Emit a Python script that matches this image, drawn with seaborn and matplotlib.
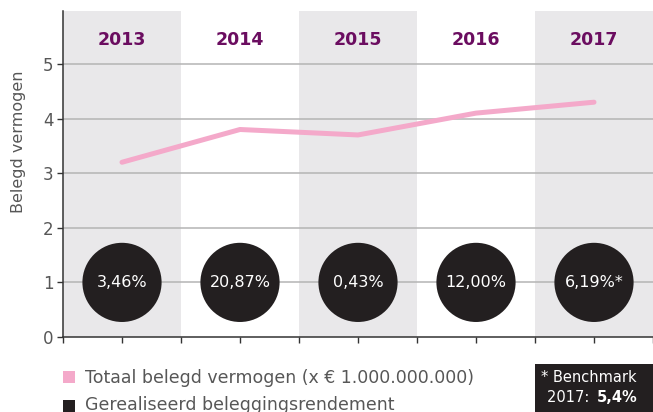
import numpy as np
import pandas as pd
import matplotlib
matplotlib.use("Agg")
import matplotlib.pyplot as plt
from matplotlib.patches import Rectangle
import seaborn as sns

# data
years = ["2013", "2014", "2015", "2016", "2017"]
belegd_vermogen = [3.2, 3.8, 3.7, 4.1, 4.3]
rendement_labels = ["3,46%", "20,87%", "0,43%", "12,00%", "6,19%*"]
circle_level = [1, 1, 1, 1, 1]
y_ticks = [0, 1, 2, 3, 4, 5]

PINK = "#f4a9ca"
DARK = "#231f20"
PURPLE = "#6b0d60"
BAND = "#e9e8ea"
TEXT_GRAY = "#575757"

sns.set_theme(style="white")
plt.rcParams["font.family"] = ["DejaVu Sans"]

df = pd.DataFrame({"pos": np.arange(len(years)), "year": years,
                   "vermogen": belegd_vermogen, "level": circle_level})

fig = plt.figure(figsize=(6.53, 4.12), dpi=100)
ax = fig.add_axes([63 / 653, 1 - 337 / 412, 590 / 653, 326 / 412])

# grijze kolommen om en om
for i in range(len(years)):
    if i % 2 == 0:
        ax.axvspan(i - 0.5, i + 0.5, color=BAND, lw=0, zorder=0)

for t in y_ticks[1:]:
    ax.axhline(t, color="#b4b4b4", lw=1.1, zorder=1)

sns.lineplot(data=df, x="pos", y="vermogen", color=PINK, lw=3.6,
             solid_capstyle="round", ax=ax, zorder=3)
sns.scatterplot(data=df, x="pos", y="level", s=3250, color=DARK,
                edgecolor="none", ax=ax, zorder=4)

for i, lab in enumerate(rendement_labels):
    ax.text(i, circle_level[i], lab, color="white", fontsize=11.5,
            ha="center", va="center", zorder=5)
for i, yr in enumerate(years):
    ax.text(i, 5.44, yr, color=PURPLE, fontsize=12.5, fontweight="bold",
            ha="center", va="center", zorder=5)

ax.set_xlim(-0.5, len(years) - 0.5)
ax.set_ylim(0, 5.97)
ax.set_yticks(y_ticks)
ax.set_xticks(range(len(years)))
ax.set_xticks(np.arange(-0.5, len(years), 1.0), minor=True)
ax.set_xticklabels([])
ax.set_xlabel("")
ax.set_ylabel("Belegd vermogen", color=TEXT_GRAY, fontsize=11.5)
ax.yaxis.set_label_coords(-0.063, 0.60)
ax.tick_params(axis="y", labelsize=12, labelcolor=TEXT_GRAY, length=4,
               width=1, color="#333333", direction="out", left=True, pad=3)
ax.tick_params(axis="x", which="both", length=4, width=1, color="#333333",
               direction="out", bottom=True)

for side in ["top", "right"]:
    ax.spines[side].set_visible(False)
for side in ["left", "bottom"]:
    ax.spines[side].set_color("#333333")
    ax.spines[side].set_linewidth(1.1)

# legenda met de hand onder de grafiek
fig.add_artist(Rectangle((63 / 653, 1 - 383 / 412), 12 / 653, 12 / 412,
                         transform=fig.transFigure, color=PINK, lw=0))
fig.text(85 / 653, 1 - 378 / 412, "Totaal belegd vermogen (x € 1.000.000.000)",
         color=TEXT_GRAY, fontsize=12.5, va="center")
fig.add_artist(Rectangle((63 / 653, 1 - 412 / 412), 12 / 653, 12 / 412,
                         transform=fig.transFigure, color=DARK, lw=0))
fig.text(85 / 653, 1 - 405 / 412, "Gerealiseerd beleggingsrendement",
         color=TEXT_GRAY, fontsize=12.5, va="center")

# benchmark kader
fig.add_artist(Rectangle((535 / 653, 0), 118 / 653, 48 / 412,
                         transform=fig.transFigure, color=DARK, lw=0))
fig.text(541 / 653, 1 - 378 / 412, "* Benchmark", color="white",
         fontsize=10.5, va="center")
fig.text(594 / 653, 1 - 398 / 412, "2017: ", color="white", fontsize=10.5,
         va="center", ha="right")
fig.text(597 / 653, 1 - 398 / 412, "5,4%", color="white", fontsize=10.5,
         fontweight="bold", va="center", ha="left")

fig.savefig("out.png", dpi=100)
